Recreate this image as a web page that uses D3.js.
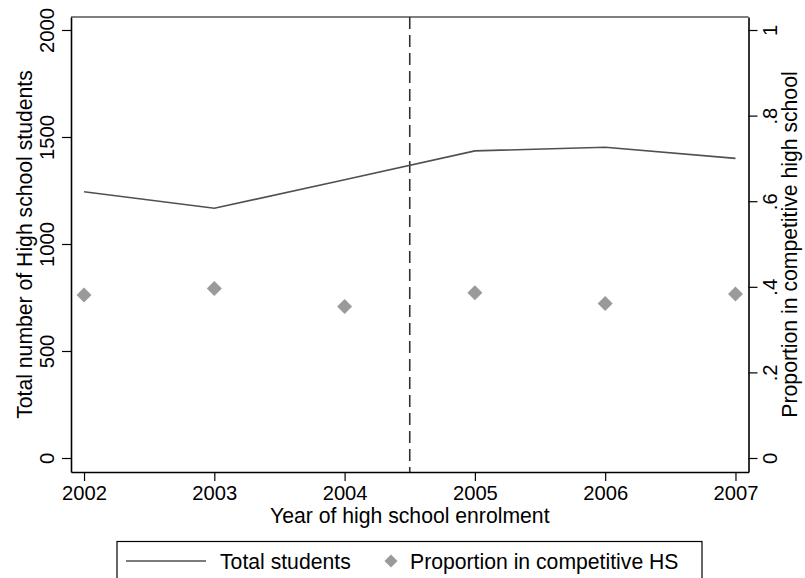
<!DOCTYPE html>
<html>
<head>
<meta charset="utf-8">
<script src="https://cdn.jsdelivr.net/npm/d3@7"></script>
<style>
  html, body { margin: 0; padding: 0; background: #fff; }
  svg { display: block; font-family: "Liberation Sans", Arial, Helvetica, sans-serif; }
</style>
</head>
<body>
<svg id="chart" width="805" height="578"></svg>
<script>
// Enrolment years and series
const years = [2002, 2003, 2004, 2005, 2006, 2007];
const totalStudents = [1244, 1167, 1300, 1435, 1452, 1400];
const propCompetitive = [0.381, 0.396, 0.354, 0.386, 0.361, 0.383];

// Axis ticks and labels
const leftTicks = [0, 500, 1000, 1500, 2000];
const rightTicks = [0, 0.2, 0.4, 0.6, 0.8, 1];
const rightTickLabels = ["0", ".2", ".4", ".6", ".8", "1"];
const reformYear = 2004.5;

const xTitle = "Year of high school enrolment";
const leftTitle = "Total number of High school students";
const rightTitle = "Proportion in competitive high school";
const legendLabels = ["Total students", "Proportion in competitive HS"];

const svg = d3.select("#chart");
const W = 805, H = 578;
const plot = { left: 71, right: 748.5, top: 17, bottom: 472 };

svg.append("rect").attr("width", W).attr("height", H).attr("fill", "#fff");

const x = d3.scaleLinear().domain([2001.9, 2007.1]).range([plot.left, plot.right]);
const yL = d3.scaleLinear().domain([-65.4, 2060.7]).range([plot.bottom, plot.top]);
const yR = d3.scaleLinear().domain([-0.0327, 1.0304]).range([plot.bottom, plot.top]);

const lineColor = "#505050";
const markerColor = "#9a9a9a";
const tickFont = 20.2;
const titleFont = 21.2;

// Plot frame (top edge)
svg.append("line")
  .attr("x1", plot.left).attr("x2", plot.right)
  .attr("y1", plot.top).attr("y2", plot.top)
  .attr("stroke", "#000").attr("stroke-width", 1.2);

// Vertical dashed reference line
svg.append("line")
  .attr("x1", x(reformYear)).attr("x2", x(reformYear))
  .attr("y1", plot.top).attr("y2", plot.bottom)
  .attr("stroke", "#333").attr("stroke-width", 1.6)
  .attr("stroke-dasharray", "12,6");

// Total students line
const line = d3.line()
  .x((d, i) => x(years[i]))
  .y(d => yL(d));
svg.append("path")
  .datum(totalStudents)
  .attr("d", line)
  .attr("fill", "none")
  .attr("stroke", lineColor)
  .attr("stroke-width", 1.6);

// Proportion markers (diamonds)
const diamond = d3.symbol().type(d3.symbolSquare).size(112);
svg.append("g").selectAll("path")
  .data(propCompetitive)
  .join("path")
  .attr("d", diamond)
  .attr("transform", (d, i) => `translate(${x(years[i])},${yR(d)}) rotate(45)`)
  .attr("fill", markerColor);

// Bottom axis
const gx = svg.append("g")
  .attr("transform", `translate(0,${plot.bottom})`)
  .call(d3.axisBottom(x).tickValues(years).tickFormat(d3.format("d")).tickSize(9).tickSizeOuter(0));
gx.select(".domain").attr("stroke", "#000").attr("stroke-width", 1.6);
gx.selectAll(".tick line").attr("stroke", "#000").attr("stroke-width", 1.2);
gx.selectAll(".tick text")
  .attr("font-size", tickFont).attr("font-family", null).attr("fill", "#000")
  .attr("y", 28).attr("dy", null);

// Left axis
const gl = svg.append("g")
  .attr("transform", `translate(${plot.left},0)`)
  .call(d3.axisLeft(yL).tickValues(leftTicks).tickFormat(d3.format("d")).tickSize(9).tickSizeOuter(0));
gl.select(".domain").attr("stroke", "#000").attr("stroke-width", 1.6);
gl.selectAll(".tick line").attr("stroke", "#000").attr("stroke-width", 1.2);
gl.selectAll(".tick text")
  .attr("font-size", tickFont).attr("font-family", null).attr("fill", "#000")
  .attr("transform", "rotate(-90)")
  .attr("x", 0).attr("y", -17.5).attr("dy", null)
  .attr("text-anchor", "middle");

// Right axis
const gr = svg.append("g")
  .attr("transform", `translate(${plot.right},0)`)
  .call(d3.axisRight(yR).tickValues(rightTicks)
    .tickFormat((d, i) => rightTickLabels[i]).tickSize(9).tickSizeOuter(0));
gr.select(".domain").attr("stroke", "#000").attr("stroke-width", 1.6);
gr.selectAll(".tick line").attr("stroke", "#000").attr("stroke-width", 1.2);
gr.selectAll(".tick text")
  .attr("font-size", tickFont).attr("font-family", null).attr("fill", "#000")
  .attr("transform", "rotate(-90)")
  .attr("x", 0).attr("y", 28.5).attr("dy", null)
  .attr("text-anchor", "middle");

// Axis titles
const midX = (plot.left + plot.right) / 2;
const midY = (plot.top + plot.bottom) / 2;
svg.append("text")
  .attr("x", midX).attr("y", 523)
  .attr("text-anchor", "middle").attr("font-size", titleFont)
  .text(xTitle);
svg.append("text")
  .attr("transform", `translate(31.5,${midY}) rotate(-90)`)
  .attr("text-anchor", "middle").attr("font-size", titleFont)
  .text(leftTitle);
svg.append("text")
  .attr("transform", `translate(797,${midY}) rotate(-90)`)
  .attr("text-anchor", "middle").attr("font-size", titleFont)
  .text(rightTitle);

// Legend
const lg = svg.append("g");
lg.append("rect")
  .attr("x", 117).attr("y", 541.5)
  .attr("width", 585).attr("height", 60)
  .attr("fill", "#fff").attr("stroke", "#000").attr("stroke-width", 1.2);
const keyY = 561;
lg.append("line")
  .attr("x1", 126).attr("x2", 206).attr("y1", keyY).attr("y2", keyY)
  .attr("stroke", lineColor).attr("stroke-width", 1.6);
lg.append("text")
  .attr("x", 220).attr("y", 569).attr("font-size", titleFont)
  .text(legendLabels[0]);
lg.append("path")
  .attr("d", d3.symbol().type(d3.symbolSquare).size(85))
  .attr("transform", `translate(391,${keyY}) rotate(45)`)
  .attr("fill", markerColor);
lg.append("text")
  .attr("x", 410).attr("y", 569).attr("font-size", titleFont)
  .text(legendLabels[1]);
</script>
</body>
</html>
